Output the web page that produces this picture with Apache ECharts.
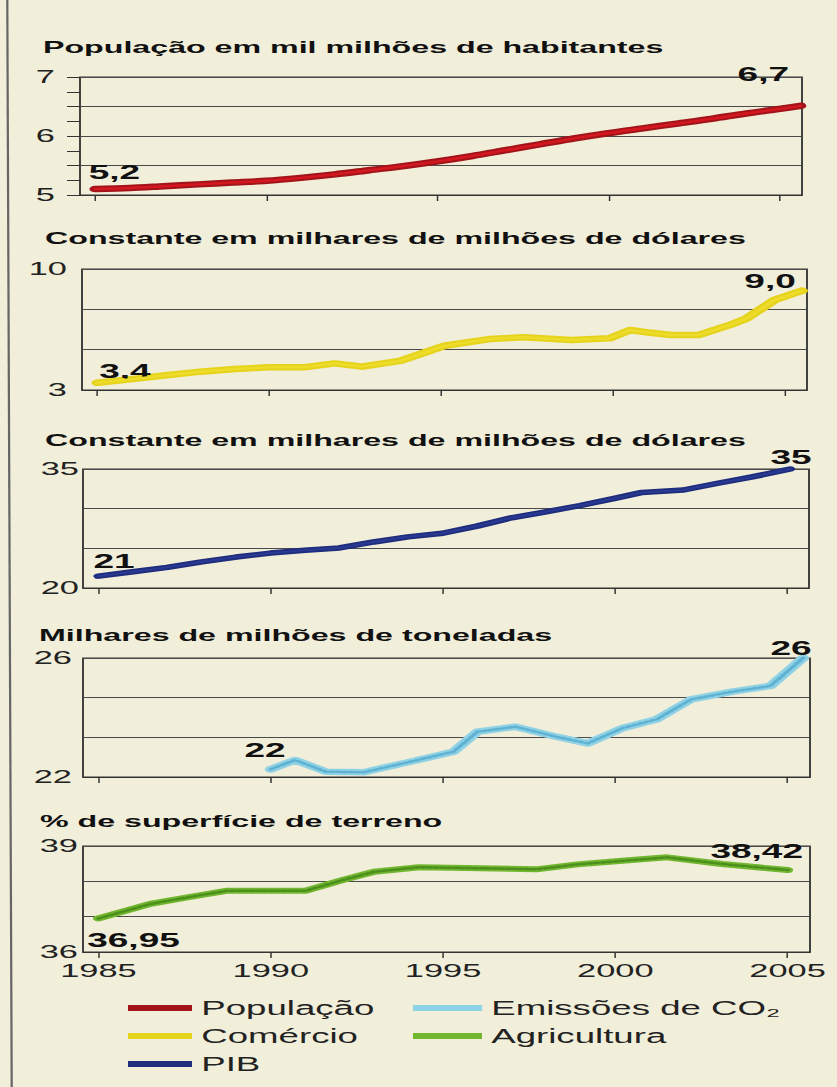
<!DOCTYPE html>
<html>
<head>
<meta charset="utf-8">
<script src="https://cdn.jsdelivr.net/npm/echarts@6/dist/echarts.min.js"></script>
<style>
html,body{margin:0;padding:0;background:#f1eed9;overflow:hidden;width:837px;height:1087px}
#c{position:absolute;left:0;top:0;height:1087px;transform-origin:0 0}
</style>
</head>
<body>
<div id="c"></div>
<script>
// ---------------- DATA ----------------
const tickYears = [1985, 1990, 1995, 2000, 2005];
const seriesNames = ['População', 'Comércio', 'PIB', 'Emissões de CO₂', 'Agricultura'];
const panelTitles = [
  'População em mil milhões de habitantes',
  'Constante em milhares de milhões de dólares',
  'Constante em milhares de milhões de dólares',
  'Milhares de milhões de toneladas',
  '% de superfície de terreno'
];
const populacao = [[1985,5.10],[1986,5.12],[1987,5.15],[1988,5.18],[1989,5.21],[1990,5.24],[1991,5.29],[1992,5.35],[1993,5.42],[1994,5.49],[1995,5.57],[1996,5.66],[1997,5.76],[1998,5.86],[1999,5.96],[2000,6.05],[2001,6.13],[2002,6.21],[2003,6.29],[2004,6.38],[2005,6.46],[2005.6,6.51]];
const comercio = [[1985,3.42],[1986,3.63],[1987,3.85],[1988,4.06],[1989,4.22],[1990,4.31],[1991,4.31],[1991.9,4.54],[1992.7,4.35],[1993.8,4.68],[1994.6,5.22],[1995.1,5.56],[1996.4,5.95],[1997.4,6.05],[1998.8,5.89],[1999.9,5.99],[2000.5,6.47],[2001.1,6.31],[2001.7,6.18],[2002.5,6.18],[2003.4,6.76],[2003.9,7.15],[2004.7,8.2],[2005.5,8.74]];
const pib = [[1985,21.5],[1986,22.05],[1987,22.6],[1988,23.3],[1989,23.9],[1990,24.4],[1991,24.75],[1992,25.05],[1993,25.8],[1994,26.45],[1995,26.9],[1996,27.8],[1997,28.85],[1998,29.6],[1999,30.4],[2000,31.3],[2000.8,32.05],[2002,32.35],[2003,33.2],[2004,34.0],[2005.1,35.0]];
const emissoesCO2 = [[1990,22.26],[1990.7,22.57],[1991.6,22.18],[1992.7,22.16],[1994,22.5],[1995.3,22.85],[1996,23.52],[1997.1,23.69],[1998.3,23.35],[1999.2,23.13],[2000.2,23.64],[2001.2,23.94],[2002.2,24.61],[2003.4,24.87],[2004.5,25.06],[2005.45,26.0]];
const agricultura = [[1985,36.95],[1986.5,37.36],[1987.6,37.55],[1988.7,37.73],[1991,37.73],[1992.1,38.04],[1993,38.27],[1994.3,38.40],[1996.1,38.37],[1997.7,38.34],[1998.9,38.48],[2000.2,38.58],[2001.5,38.68],[2003.1,38.49],[2005,38.32]];
const endLabels = [['5,2','6,7'],['3,4','9,0'],['21','35'],['22','26'],['36,95','38,42']];
const yMin = [5, 3, 20, 22, 36];
const yMax = [7, 10, 35, 26, 39];
const yStep = [0.5, 7/3, 5, 4/3, 1];
const yTickLabels = [[5,6,7],[3,10],[20,35],[22,26],[36,39]];

// ---------------- LAYOUT / STYLE ----------------
const S = 1.85;                 // horizontal stretch of the reference
const W = 837 / S;
const FONT = '"Liberation Sans", Arial, Helvetica, sans-serif';
const X_MIN = 1984.55, X_MAX = 2005.65;
const layout = [
  {l:80, r:802, t:77,  b:195, tx:43, ty:47,  lm:25, off:[[19,-17.1],[-37,-31.9]]},
  {l:82, r:807, t:269, b:390, tx:45, ty:238, lm:15, off:[[27.5,-11.7],[-31.8,-9.8]]},
  {l:83, r:809, t:469, b:588, tx:45, ty:440, lm:4,  off:[[15.5,-15.1],[0.9,-12.3]]},
  {l:83, r:810, t:658, b:777, tx:39, ty:635, lm:11, off:[[-5.8,-19.3],[-12.1,-10.5]]},
  {l:83, r:810, t:846, b:952, tx:40, ty:821, lm:5,  off:[[35,21.6],[-30.9,-19.2]]}
];
const colors = ['#a3141a', '#e6d31c', '#1e2d7d', '#8fd2e6', '#70b62e'];
const widths = [6.5, 6.5, 5.5, 6.5, 6];
// thin overlay strokes that mimic the printed texture of each line
const overlay = [
  {color: '#d5181f', width: 2.5, type: 'solid'},
  {color: '#eedc2a', width: 2.5, type: 'solid'},
  {color: '#2a3a92', width: 2, type: 'solid'},
  {color: '#5fb2d2', width: 2.5, type: [1.5, 2]},
  {color: '#4d8f1d', width: 2.5, type: [1.5, 2]}
];
const allData = [populacao, comercio, pib, emissoesCO2, agricultura];

const el = document.getElementById('c');
el.style.width = W + 'px';
el.style.transform = 'scaleX(' + S + ')';

const chart = echarts.init(el, null, {renderer: 'svg', width: W, height: 1087});

const grids = layout.map(p => ({
  left: p.l / S, top: p.t, width: (p.r - p.l) / S, height: p.b - p.t,
  show: true, borderColor: '#333', borderWidth: 1, backgroundColor: 'transparent'
}));

const xAxes = layout.map((p, i) => ({
  gridIndex: i, type: 'value', min: X_MIN, max: X_MAX,
  axisLine: {show: true, lineStyle: {color: '#333', width: 1}},
  axisTick: {show: true, customValues: tickYears, length: 6, lineStyle: {color: '#333', width: 0.8}},
  axisLabel: {show: i === 4, customValues: tickYears, margin: 9, fontSize: 18.6, color: '#222',
              fontFamily: FONT, formatter: v => String(v)},
  splitLine: {show: false}
}));

const yAxes = layout.map((p, i) => ({
  gridIndex: i, type: 'value', min: yMin[i], max: yMax[i], interval: yStep[i],
  axisLine: {show: false},
  axisTick: {show: i === 0, length: 13 / S, lineStyle: {color: '#333', width: 1}},
  minorTick: {show: i === 0, splitNumber: 2, length: 13 / S, lineStyle: {color: '#333', width: 1}},
  splitLine: {show: true, lineStyle: {color: '#4a4a4a', width: 1}},
  axisLabel: {customValues: yTickLabels[i], margin: p.lm / S, fontSize: 18.6, color: '#222',
              fontFamily: FONT, formatter: v => String(v)}
}));

const mainSeries = allData.map((data, i) => ({
  type: 'line', name: seriesNames[i], xAxisIndex: i, yAxisIndex: i,
  showSymbol: true, symbol: 'circle', symbolSize: 0, clip: false,
  itemStyle: {color: colors[i]},
  lineStyle: {color: colors[i], width: widths[i], cap: 'round', join: 'round'},
  smooth: i === 0 ? 0.3 : false,
  label: {show: false},
  emphasis: {disabled: true},
  z: 3,
  data: data.map((pt, k) => {
    if (k === 0 || k === data.length - 1) {
      const j = k === 0 ? 0 : 1;
      return {value: pt, label: {show: true, position: 'inside', formatter: endLabels[i][j],
        offset: [layout[i].off[j][0] / S, layout[i].off[j][1]],
        fontSize: 20, fontWeight: 'bold', color: '#111', fontFamily: FONT}};
    }
    return pt;
  })
}));

const overlaySeries = allData.map((data, i) => ({
  type: 'line', name: 'texture-' + i, xAxisIndex: i, yAxisIndex: i,
  showSymbol: false, clip: false, silent: true,
  lineStyle: {color: overlay[i].color, width: overlay[i].width, type: overlay[i].type, cap: 'round', join: 'round'},
  smooth: i === 0 ? 0.3 : false,
  emphasis: {disabled: true},
  z: 4,
  data: data
}));

const legendCommon = {
  orient: 'vertical', top: 998, itemHeight: 6, itemGap: 8, icon: 'rect', padding: 0,
  selectedMode: false,
  textStyle: {fontSize: 19.8, color: '#222', lineHeight: 20, fontFamily: FONT}
};

const titles = layout.map((p, i) => ({
  type: 'text', x: p.tx / S, y: p.ty,
  style: {text: panelTitles[i], fontSize: 17.4, fontWeight: 'bold', fontFamily: FONT,
          fill: '#111', align: 'left', verticalAlign: 'middle'}
}));

chart.setOption({
  backgroundColor: '#f1eed9',
  animation: false,
  grid: grids,
  xAxis: xAxes,
  yAxis: yAxes,
  series: mainSeries.concat(overlaySeries),
  legend: [
    Object.assign({data: seriesNames.slice(0, 3), left: 128 / S, itemWidth: 64 / S}, legendCommon),
    Object.assign({data: seriesNames.slice(3), left: 413 / S, itemWidth: 69 / S}, legendCommon)
  ],
  graphic: titles.concat([
    {type: 'line', shape: {x1: 7.3 / S, y1: 0, x2: 11.7 / S, y2: 1087},
     style: {stroke: '#666', lineWidth: 1.2}}
  ])
});
</script>
</body>
</html>
